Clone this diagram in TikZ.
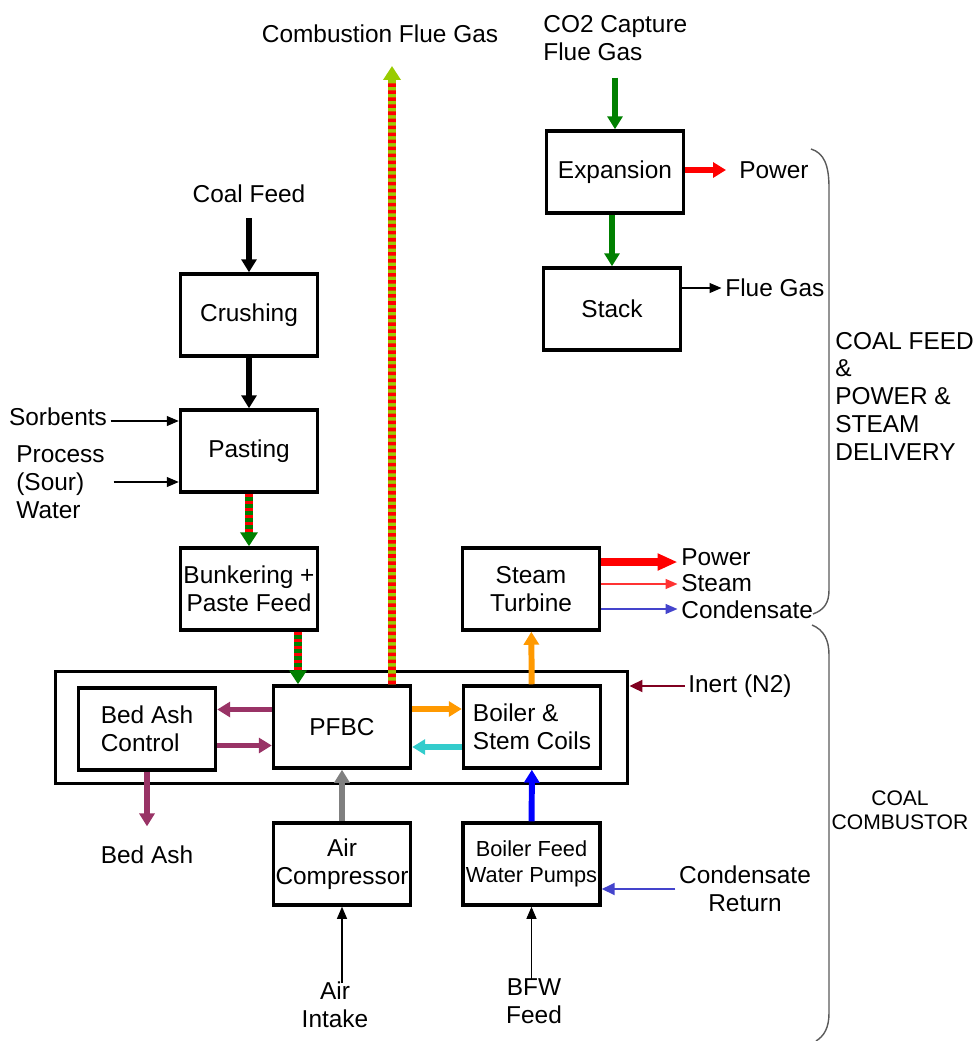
\documentclass[tikz,border=0pt]{standalone}
\usepackage{fontspec}
\setmainfont{Liberation Sans}
\usetikzlibrary{arrows.meta}
\definecolor{flowgreen}{RGB}{0,128,0}
\definecolor{flowred}{RGB}{255,0,0}
\definecolor{flowlime}{RGB}{153,204,0}
\definecolor{flowpurple}{RGB}{153,51,102}
\definecolor{floworange}{RGB}{255,153,0}
\definecolor{flowcyan}{RGB}{51,204,204}
\definecolor{flowblue}{RGB}{0,0,255}
\definecolor{flowgray}{RGB}{128,128,128}
\definecolor{flowmaroon}{RGB}{128,0,32}
\definecolor{condblue}{RGB}{68,68,204}
\definecolor{bracegray}{RGB}{90,90,90}

\begin{document}
\begin{tikzpicture}[x=0.02cm,y=-0.02cm,
  txt/.style={font=\fontsize{13.9}{15.8}\selectfont,inner sep=2pt},
  box/.style={draw,line width=2pt,minimum width=2.74cm,minimum height=1.64cm,txt,inner xsep=1pt,align=center},
  thk/.style={line width=3.4pt,-{Triangle[width=0.3cm,length=0.26cm]}},
  thn/.style={line width=0.6pt,-{Triangle[width=0.2cm,length=0.24cm]}},
  mid/.style={line width=1.1pt,-{Triangle[width=0.24cm,length=0.26cm]}},
  stripe/.style 2 args={line width=4.5pt,draw=#1,-{Triangle[width=0.34cm,length=0.28cm]},
    postaction={draw=#2,-,dash pattern=on 2pt off 2pt,shorten >=0.28cm}},
  bracket/.style={line width=0.8pt,bracegray}]
  \useasboundingbox (0,0) rectangle (975,1041);

  % Coal combustor block
  \node[draw,line width=1.7pt,minimum width=11.46cm,minimum height=2.25cm] (comb) at (341.5,727.5) {};
  \node[box,align=left] (bedash) at (147,729) {Bed Ash\\Control};
  \node[box] (pfbc) at (342,727) {PFBC};
  \node[box,align=left] (boiler) at (532,727) {Boiler \&\\Stem Coils};
  \node[box] (aircomp) at (342,864) {Air\\Compressor};
  \node[box,font=\fontsize{12.4}{15.2}\selectfont] (bfwp) at (531.5,864) {Boiler Feed\\Water Pumps};

  % Coal feed line
  \node[box] (crush) at (249,315) {Crushing};
  \node[box] (paste) at (249,451) {Pasting};
  \node[box] (bunker) at (249,589) {Bunkering +\\Paste Feed};

  % Power and steam
  \node[box] (turbine) at (531,589) {Steam\\Turbine};
  \node[box] (expand) at (615,172) {Expansion};
  \node[box] (stack) at (612,309) {Stack};

  % Stream labels
  \node[txt] (fluelbl) at (380,34) {Combustion Flue Gas};
  \coordinate (fgtop) at (392,66);
  \node[txt,align=left,anchor=west] (co2in) at (539.5,38) {CO2 Capture\\Flue Gas};
  \node[txt] (coalin) at (249,194) {Coal Feed};
  \node[txt] (sorb) at (58,417) {Sorbents};
  \node[txt,align=left,anchor=west] (procw) at (12.5,482) {Process\\(Sour)\\Water};
  \node[txt,anchor=west] (pwr1) at (735.5,170) {Power};
  \node[txt,anchor=west] (fgas) at (721.5,288) {Flue Gas};
  \node[txt,anchor=west] (pwr2) at (677.5,557) {Power};
  \node[txt,anchor=west] (steam) at (677.5,583) {Steam};
  \node[txt,anchor=west] (cond) at (677.5,610) {Condensate};
  \node[txt,anchor=west] (inert) at (684.5,686) {Inert (N2)};
  \node[txt,align=center] (condret) at (745,889) {Condensate\\Return};
  \node[txt] (ashlbl) at (147,855) {Bed Ash};
  \node[txt,align=center] (airin) at (335,1005) {Air\\Intake};
  \node[txt,align=center] (bfwin) at (534,1001) {BFW\\Feed};
  \node[txt,align=left,anchor=west] (sec1) at (831.5,396) {COAL FEED\\\&\\POWER \&\\STEAM\\DELIVERY};
  \node[font=\fontsize{12}{13.7}\selectfont,align=center] (sec2) at (900,810) {COAL\\COMBUSTOR};

  % Coal and paste
  \draw[thk,shorten <=6.5pt] (coalin) -- (crush);
  \draw[thk] (crush) -- (paste);
  \draw[thn] ([yshift=-0.08cm]sorb.east) -- ([yshift=-0.08cm]sorb.east -| paste.west);
  \draw[thn,shorten <=3pt] (procw.east) -- (procw.east -| paste.west);
  \draw[stripe={flowgreen}{flowred}] (paste) -- (bunker);
  \draw[stripe={flowgreen}{flowred}] ([xshift=0.98cm]bunker.south) -- ([xshift=0.98cm]bunker.south |- pfbc.north);
  \draw[stripe={flowlime}{flowred}] ([xshift=1cm]pfbc.north) -- (fgtop);

  % Combustor flows
  \draw[thk,flowpurple] ([yshift=0.35cm]pfbc.west) -- ([yshift=0.35cm]pfbc.west -| bedash.east);
  \draw[thk,flowpurple] ([yshift=-0.37cm]pfbc.west -| bedash.east) -- ([yshift=-0.37cm]pfbc.west);
  \draw[thk,flowpurple,shorten >=9pt] (bedash) -- (ashlbl);
  \draw[thk,flowgray] (aircomp) -- (pfbc);
  \draw[thk,floworange] ([yshift=0.36cm]pfbc.east) -- ([yshift=0.36cm]pfbc.east -| boiler.west);
  \draw[thk,flowcyan] ([yshift=-0.4cm]pfbc.east -| boiler.west) -- ([yshift=-0.4cm]pfbc.east);
  \draw[thk,floworange] (boiler) -- (turbine);
  \draw[thk,flowblue] (bfwp) -- (boiler);
  \draw[thn,shorten <=-2.5pt] (airin.north -| aircomp.south) -- (aircomp.south);
  \draw[thn,shorten <=-2.5pt] (bfwin.north -| bfwp.south) -- (bfwp.south);
  \draw[mid,condblue] (condret.west) -- (condret.west -| bfwp.east);
  \draw[mid,flowmaroon] (inert.west) -- (inert.west -| comb.east);

  % Turbine outputs
  \draw[line width=4.5pt,flowred,-{Triangle[width=0.32cm,length=0.4cm]}] ([yshift=0.54cm]turbine.east) -- ([yshift=0.54cm]turbine.east -| pwr2.west);
  \draw[line width=0.9pt,flowred!80,-{Triangle[width=0.2cm,length=0.24cm]}] ([yshift=0.1cm]turbine.east) -- ([yshift=0.1cm]turbine.east -| steam.west);
  \draw[line width=0.8pt,condblue,-{Triangle[width=0.2cm,length=0.24cm]}] ([yshift=-0.4cm]turbine.east) -- ([yshift=-0.4cm]turbine.east -| cond.west);

  % CO2 capture gas
  \draw[thk,flowgreen,shorten <=7.5pt] (co2in.south -| expand.north) -- (expand.north);
  \draw[thk,flowred,shorten >=0.19cm] (expand.east |- pwr1.west) -- (pwr1.west);
  \draw[thk,flowgreen] (expand.south -| stack.north) -- (stack.north);
  \draw[thn] (stack.east |- fgas.west) -- (fgas.west);

  % Section brackets
  \draw[bracket] (811,149) .. controls (824,153) and (829,165) .. (829,188) -- (829,590) .. controls (829,603) and (824,610) .. (813,614);
  \draw[bracket] (812,625) .. controls (824,630) and (829,640) .. (829,655) -- (829,1013) .. controls (829,1028) and (824,1036) .. (816,1041);
\end{tikzpicture}
\end{document}
